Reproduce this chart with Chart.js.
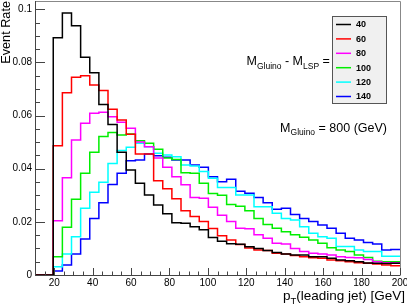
<!DOCTYPE html>
<html>
<head>
<meta charset="utf-8">
<script src="https://cdn.jsdelivr.net/npm/chart.js@4.4.0/dist/chart.umd.min.js"></script>
<style>
  html, body { margin: 0; padding: 0; background: #fff; }
</style>
</head>
<body>
<canvas id="myChart" width="407" height="306"></canvas>
<script>
// histogram bin edges (GeV), 40 bins from 10 to 200
const binEdges = [10, 14.75, 19.5, 24.25, 29, 33.75, 38.5, 43.25, 48, 52.75,
  57.5, 62.25, 67, 71.75, 76.5, 81.25, 86, 90.75, 95.5, 100.25,
  105, 109.75, 114.5, 119.25, 124, 128.75, 133.5, 138.25, 143, 147.75,
  152.5, 157.25, 162, 166.75, 171.5, 176.25, 181, 185.75, 190.5, 195.25, 200];

const massSplits = ["40", "60", "80", "100", "120", "140"];

const rate40 = [0, 0, 0.0893, 0.0986, 0.0938, 0.0819, 0.0761, 0.0642, 0.0566, 0.0462,
  0.0395, 0.0345, 0.0301, 0.0263, 0.0230, 0.0197, 0.0195, 0.0182, 0.0170, 0.0141,
  0.0127, 0.0118, 0.0116, 0.0106, 0.0100, 0.0092, 0.0085, 0.0079, 0.0075, 0.0075,
  0.0069, 0.0069, 0.0063, 0.0056, 0.0054, 0.0050, 0.0045, 0.0044, 0.0043, 0.0044];
const rate60 = [0, 0, 0.0486, 0.0686, 0.0744, 0.0750, 0.0715, 0.0694, 0.0624, 0.0583,
  0.0530, 0.0455, 0.0455, 0.0355, 0.0325, 0.0287, 0.0242, 0.0220, 0.0201, 0.0175,
  0.0148, 0.0132, 0.0115, 0.0102, 0.0094, 0.0092, 0.0082, 0.0079, 0.0073, 0.0069,
  0.0065, 0.0063, 0.0056, 0.0054, 0.0050, 0.0046, 0.0044, 0.0041, 0.0038, 0.0035];
const rate80 = [0, 0, 0.0204, 0.0366, 0.0508, 0.0571, 0.0609, 0.0612, 0.0595, 0.0575,
  0.0552, 0.0500, 0.0483, 0.0440, 0.0405, 0.0370, 0.0340, 0.0292, 0.0289, 0.0255,
  0.0225, 0.0201, 0.0176, 0.0174, 0.0151, 0.0138, 0.0119, 0.0117, 0.0100, 0.0088,
  0.0082, 0.0079, 0.0075, 0.0069, 0.0066, 0.0065, 0.0058, 0.0050, 0.0046, 0.0046];
const rate100 = [0, 0, 0.0069, 0.0180, 0.0285, 0.0383, 0.0462, 0.0521, 0.0536, 0.0527,
  0.0531, 0.0505, 0.0496, 0.0473, 0.0440, 0.0435, 0.0385, 0.0383, 0.0345, 0.0307,
  0.0300, 0.0265, 0.0259, 0.0242, 0.0213, 0.0190, 0.0176, 0.0163, 0.0151, 0.0142,
  0.0132, 0.0119, 0.0103, 0.0094, 0.0088, 0.0075, 0.0066, 0.0052, 0.0050, 0.0050];
const rate120 = [0, 0, 0.0031, 0.0079, 0.0144, 0.0251, 0.0311, 0.0349, 0.0420, 0.0468,
  0.0481, 0.0496, 0.0483, 0.0458, 0.0452, 0.0445, 0.0414, 0.0410, 0.0389, 0.0364,
  0.0329, 0.0329, 0.0301, 0.0301, 0.0257, 0.0257, 0.0232, 0.0213, 0.0207, 0.0182,
  0.0157, 0.0144, 0.0138, 0.0107, 0.0107, 0.0094, 0.0088, 0.0088, 0.0071, 0.0071];
const rate140 = [0, 0, 0.0015, 0.0038, 0.0079, 0.0135, 0.0213, 0.0272, 0.0341, 0.0383,
  0.0430, 0.0433, 0.0455, 0.0449, 0.0443, 0.0433, 0.0433, 0.0414, 0.0405, 0.0370,
  0.0351, 0.0360, 0.0315, 0.0308, 0.0292, 0.0272, 0.0247, 0.0251, 0.0228, 0.0213,
  0.0201, 0.0188, 0.0176, 0.0157, 0.0138, 0.0132, 0.0122, 0.0117, 0.0094, 0.0096];

const xTicks = [20, 40, 60, 80, 100, 120, 140, 160, 180, 200];
const yTicks = [0, 0.02, 0.04, 0.06, 0.08, 0.1];

const allRates = [rate40, rate60, rate80, rate100, rate120, rate140];
const lineColors = ["#000000", "#ff0000", "#ff00ff", "#00ee00", "#00ffff", "#0000ff"];
const FONT = "'Liberation Sans', Arial, Helvetica, sans-serif";

// turn bin contents into step points (last value repeated at the right edge)
function stepPoints(vals) {
  const pts = vals.map((v, i) => ({ x: binEdges[i], y: v }));
  pts.push({ x: binEdges[binEdges.length - 1], y: vals[vals.length - 1] });
  return pts;
}

// draw text with a subscript, returns x after the text
function drawParts(ctx, parts, x, y) {
  parts.forEach(p => {
    ctx.font = p.size + "px " + FONT;
    ctx.fillText(p.t, x, y + (p.dy || 0));
    x += ctx.measureText(p.t).width;
  });
  return x;
}
function partsWidth(ctx, parts) {
  let w = 0;
  parts.forEach(p => { ctx.font = p.size + "px " + FONT; w += ctx.measureText(p.t).width; });
  return w;
}

const rootFrame = {
  id: "rootFrame",
  afterDatasetsDraw(chart) {
    const ctx = chart.ctx;
    const a = chart.chartArea;
    const xs = chart.scales.x, ys = chart.scales.y;
    ctx.save();
    // frame
    ctx.lineWidth = 1;
    ctx.strokeStyle = "#888";
    ctx.beginPath();
    ctx.moveTo(a.left, a.top + 0.5); ctx.lineTo(a.right + 0.5, a.top + 0.5);
    ctx.lineTo(a.right + 0.5, a.bottom);
    ctx.stroke();
    ctx.strokeStyle = "#444";
    ctx.beginPath();
    ctx.moveTo(a.left + 0.5, a.top); ctx.lineTo(a.left + 0.5, a.bottom + 0.5);
    ctx.lineTo(a.right + 0.5, a.bottom + 0.5);
    ctx.stroke();

    // ticks inside the frame
    ctx.beginPath();
    for (let v = 10; v <= 200.01; v += 5) {
      const px = Math.round(xs.getPixelForValue(v)) + 0.5;
      const len = xTicks.includes(v) ? 7 : 3.5;
      ctx.moveTo(px, a.bottom); ctx.lineTo(px, a.bottom - len);
    }
    for (let i = 0; i * 0.005 <= ys.max; i++) {
      const py = Math.round(ys.getPixelForValue(i * 0.005)) + 0.5;
      const len = i % 4 === 0 ? 10 : 5;
      ctx.moveTo(a.left, py); ctx.lineTo(a.left + len, py);
    }
    ctx.stroke();
    ctx.restore();
  },
  afterDraw(chart) {
    const ctx = chart.ctx;
    ctx.save();
    ctx.fillStyle = "#000";
    ctx.textBaseline = "alphabetic";

    // y title
    ctx.save();
    ctx.translate(9.5, 1);
    ctx.rotate(-Math.PI / 2);
    ctx.textAlign = "right";
    ctx.font = "12.7px " + FONT;
    ctx.fillText("Event Rate", 0, 0);
    ctx.restore();

    ctx.textAlign = "left";
    // x title
    const xt = [{ t: "p", size: 13.5 }, { t: "T", size: 9.5, dy: 3.5 }, { t: "(leading jet) [GeV]", size: 13.5 }];
    drawParts(ctx, xt, 405 - partsWidth(ctx, xt), 300);

    // mass labels
    drawParts(ctx, [{ t: "M", size: 12.5 }, { t: "Gluino", size: 8.5, dy: 3.5 },
      { t: " - M", size: 12.5 }, { t: "LSP", size: 8.5, dy: 3.5 }, { t: " =", size: 12.5 }], 246.5, 65);
    const m2 = [{ t: "M", size: 12.5 }, { t: "Gluino", size: 8.5, dy: 3.5 }, { t: " = 800 (GeV)", size: 12.5 }];
    drawParts(ctx, m2, 387 - partsWidth(ctx, m2), 131.5);

    // legend box
    ctx.fillStyle = "#f0f0f0";
    ctx.fillRect(332.5, 16.5, 54, 87);
    ctx.strokeStyle = "#555";
    ctx.lineWidth = 1;
    ctx.strokeRect(332.5, 16.5, 54, 87);
    ctx.font = "bold 9px " + FONT;
    ctx.textBaseline = "middle";
    chart.data.datasets.forEach((ds, i) => {
      const y = 24.5 + i * 14.4;
      ctx.strokeStyle = ds.borderColor;
      ctx.lineWidth = 1.5;
      ctx.beginPath();
      ctx.moveTo(336, y); ctx.lineTo(351, y);
      ctx.stroke();
      ctx.fillStyle = "#000";
      ctx.fillText(ds.label, 356, y + 0.5);
    });
    ctx.restore();
  }
};

const ctx = document.getElementById("myChart").getContext("2d");
new Chart(ctx, {
  type: "line",
  data: {
    datasets: allRates.map((vals, i) => ({
      label: massSplits[i],
      data: stepPoints(vals),
      borderColor: lineColors[i],
      borderWidth: 1.5,
      stepped: "before",
      pointRadius: 0,
      fill: false,
    })),
  },
  options: {
    responsive: false,
    animation: false,
    devicePixelRatio: 1,
    layout: { padding: { left: 0, right: 7, top: 1, bottom: 0 } },
    plugins: { legend: { display: false }, tooltip: { enabled: false } },
    scales: {
      x: {
        type: "linear",
        min: 10,
        max: 200,
        grid: { display: false, drawTicks: false },
        border: { display: false },
        ticks: { font: { family: FONT, size: 10 }, color: "#000", padding: 2, maxRotation: 0, autoSkip: false },
        afterBuildTicks: (s) => { s.ticks = xTicks.map(v => ({ value: v })); },
        afterFit: (s) => { s.height = 31; s.paddingLeft = 0; s.paddingRight = 0; },
      },
      y: {
        type: "linear",
        min: 0,
        max: 0.1031,
        grid: { display: false, drawTicks: false },
        border: { display: false },
        ticks: {
          font: { family: FONT, size: 10 }, color: "#000", padding: 3,
          callback: (v) => (v === 0 ? "0" : String(+v.toFixed(2))),
        },
        afterBuildTicks: (s) => { s.ticks = yTicks.map(v => ({ value: v })); },
        afterFit: (s) => { s.width = 35; s.paddingTop = 0; s.paddingBottom = 0; },
      },
    },
  },
  plugins: [rootFrame],
});
</script>
</body>
</html>
